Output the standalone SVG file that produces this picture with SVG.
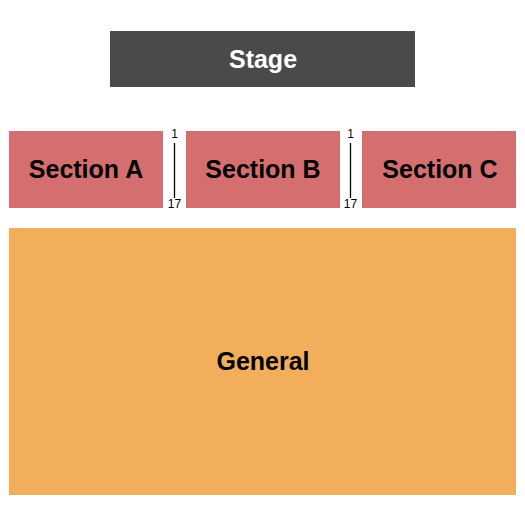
<svg xmlns="http://www.w3.org/2000/svg" width="525" height="525" viewBox="0 0 525 525">
<style>
.lbl{font-family:"Liberation Sans",Arial,sans-serif;font-weight:bold;font-size:25px;text-anchor:middle;dominant-baseline:central}
.sec{fill:#d56f6f}
.row{font-family:"Liberation Sans",Arial,sans-serif;font-size:12px;text-anchor:middle;dominant-baseline:central;fill:#000}
</style>
<rect width="525" height="525" fill="#fff"/>
<g id="stage"><rect x="110" y="31" width="305" height="56" fill="#4a4a4a"/><text class="lbl" x="263" y="59" fill="#fff">Stage</text></g>
<g id="section-a"><rect class="sec" x="9" y="131" width="154" height="77"/><text class="lbl" x="86" y="169">Section A</text></g>
<g id="section-b"><rect class="sec" x="186" y="131" width="154" height="77"/><text class="lbl" x="263" y="169">Section B</text></g>
<g id="section-c"><rect class="sec" x="362" y="131" width="154" height="77"/><text class="lbl" x="440" y="169">Section C</text></g>
<g id="general"><rect x="9" y="228" width="507" height="267" fill="#f2ae5a"/><text class="lbl" x="263" y="361">General</text></g>
<g id="connectors">
<line x1="174.5" y1="143" x2="174.5" y2="198" stroke="#000" stroke-width="1.3"/>
<line x1="350.5" y1="143" x2="350.5" y2="198" stroke="#000" stroke-width="1.3"/>
<text class="row" x="174.5" y="134">1</text>
<text class="row" x="174.5" y="204">17</text>
<text class="row" x="350.5" y="134">1</text>
<text class="row" x="350.5" y="204">17</text>
</g>
</svg>
